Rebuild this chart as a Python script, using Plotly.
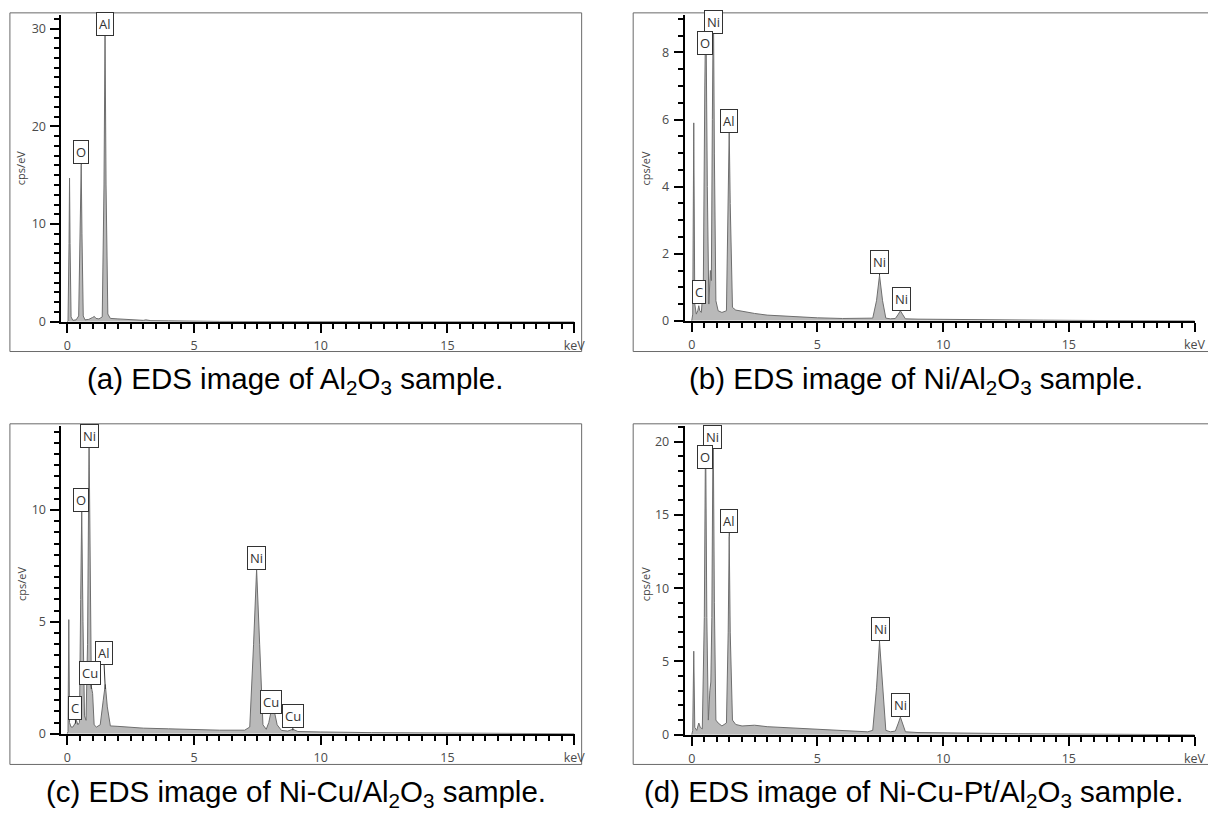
import plotly.graph_objects as go

# ---------------- data ----------------
energy_a = [0, 0.03, 0.07, 0.09, 0.11, 0.15, 0.22, 0.35, 0.45, 0.50, 0.55, 0.58, 0.63, 0.70, 0.85, 1.0, 1.07,
            1.13, 1.25, 1.38, 1.45, 1.49, 1.53, 1.60, 1.70, 2.0, 2.5, 3.0, 3.1, 3.3, 4, 5, 6, 8, 10, 12, 15, 20]
counts_a = [0, 0.1, 8.0, 14.7, 8.0, 0.5, 0.15, 0.2, 0.6, 9.0, 16.0, 9.0, 0.6, 0.2, 0.25, 0.45, 0.55,
            0.35, 0.3, 0.5, 14, 29.8, 14, 0.8, 0.35, 0.3, 0.2, 0.15, 0.2, 0.12, 0.1, 0.05, 0.04, 0.03, 0.02, 0.01, 0.01, 0]

energy_b = [0, 0.04, 0.08, 0.12, 0.18, 0.24, 0.28, 0.32, 0.38, 0.46, 0.52, 0.56, 0.62, 0.68, 0.74, 0.78, 0.82,
            0.86, 0.90, 0.96, 1.05, 1.2, 1.38, 1.45, 1.49, 1.53, 1.62, 1.75, 2.0, 2.5, 3, 4, 5, 6, 7, 7.2, 7.35,
            7.47, 7.59, 7.72, 7.9, 8.1, 8.22, 8.3, 8.38, 8.5, 9, 10, 12, 14, 16, 20]
counts_b = [0, 0.2, 5.9, 0.5, 0.2, 0.3, 0.45, 0.3, 0.25, 1.0, 7.0, 9.6, 4.0, 0.5, 1.5, 1.2, 6,
            9.8, 5, 0.6, 0.3, 0.25, 0.3, 3.5, 5.67, 3.5, 0.4, 0.32, 0.28, 0.22, 0.17, 0.12, 0.09, 0.07, 0.06, 0.08, 0.6,
            1.35, 0.6, 0.08, 0.06, 0.07, 0.2, 0.3, 0.2, 0.06, 0.05, 0.04, 0.03, 0.02, 0.01, 0]

energy_c = [0, 0.03, 0.06, 0.09, 0.15, 0.22, 0.3, 0.36, 0.42, 0.48, 0.53, 0.57, 0.62, 0.68, 0.74, 0.80, 0.86,
            0.90, 0.95, 1.0, 1.06, 1.15, 1.3, 1.42, 1.5, 1.58, 1.7, 2.0, 3, 4, 5, 6, 7, 7.2, 7.35, 7.47, 7.59,
            7.72, 7.85, 7.95, 8.05, 8.15, 8.28, 8.45, 8.7, 8.9, 9.1, 9.5, 10, 12, 15, 20]
counts_c = [0, 0.1, 5.1, 0.5, 0.3, 0.3, 0.45, 0.6, 0.4, 0.5, 6, 10.0, 5, 0.8, 0.6, 4, 13.2,
            6, 2.1, 1.8, 0.4, 0.3, 0.4, 1.5, 2.2, 1.2, 0.35, 0.33, 0.25, 0.22, 0.18, 0.16, 0.16, 0.3, 4, 7.35, 4,
            0.4, 0.2, 0.5, 1.05, 1.1, 0.4, 0.15, 0.12, 0.2, 0.1, 0.1, 0.08, 0.05, 0.03, 0]

energy_d = [0, 0.04, 0.08, 0.12, 0.2, 0.28, 0.34, 0.42, 0.5, 0.55, 0.6, 0.66, 0.72, 0.76, 0.80, 0.85, 0.9,
            0.96, 1.05, 1.2, 1.38, 1.45, 1.49, 1.53, 1.62, 1.75, 2, 2.5, 3, 4, 5, 6, 7, 7.2, 7.35, 7.47, 7.59,
            7.72, 7.9, 8.1, 8.22, 8.3, 8.38, 8.5, 9, 10, 11, 13, 15, 17, 20]
counts_d = [0, 0.3, 5.7, 0.5, 0.3, 0.8, 0.5, 0.4, 8, 21, 8, 1.0, 3.0, 3.6, 8, 22, 9,
            1.0, 0.8, 0.6, 0.8, 7, 13.5, 7, 1.0, 0.7, 0.6, 0.65, 0.55, 0.45, 0.35, 0.3, 0.2, 0.3, 3.2, 6.35, 3.2,
            0.3, 0.2, 0.25, 0.8, 1.2, 0.8, 0.2, 0.15, 0.12, 0.1, 0.07, 0.05, 0.03, 0]

# peak labels: (element, tip_x, tip_y, box_x, box_y)
labels_a = [("Al", 1.49, 30.5, 1.49, 30.5), ("O", 0.55, 16.0, 0.55, 17.4)]
labels_b = [("Ni", 0.87, 8.9, 0.87, 8.9), ("O", 0.53, 8.29, 0.53, 8.29), ("Al", 1.49, 5.67, 1.49, 5.96),
            ("C", 0.28, 0.5, 0.28, 0.86), ("Ni", 7.47, 1.35, 7.47, 1.74), ("Ni", 8.3, 0.3, 8.33, 0.66)]
labels_c = [("Ni", 0.86, 13.3, 0.86, 13.3), ("O", 0.55, 10.0, 0.55, 10.44), ("Ni", 7.47, 7.35, 7.48, 7.86),
            ("Al", 1.5, 2.0, 1.43, 3.63), ("Cu", 0.95, 2.0, 0.9, 2.7), ("C", 0.33, 0.45, 0.29, 1.15),
            ("Cu", 8.03, 0.95, 8.03, 1.44), ("Cu", 8.9, 0.15, 8.9, 0.8)]
labels_d = [("Ni", 0.84, 20.3, 0.84, 20.3), ("O", 0.51, 18.94, 0.51, 18.94), ("Al", 1.49, 13.5, 1.5, 14.55),
            ("Ni", 7.47, 6.35, 7.49, 7.23), ("Ni", 8.3, 1.2, 8.3, 2.05)]

x_tick_vals = [0, 5, 10, 15, 20]
x_tick_text = ["0", "5", "10", "15", "keV"]
y_ticks_a = [0, 10, 20, 30]
y_ticks_b = [0, 2, 4, 6, 8]
y_ticks_c = [0, 5, 10]
y_ticks_d = [0, 5, 10, 15, 20]

captions = ["(a) EDS image of Al<sub>2</sub>O<sub>3</sub> sample.",
            "(b) EDS image of Ni/Al<sub>2</sub>O<sub>3</sub> sample.",
            "(c) EDS image of Ni-Cu/Al<sub>2</sub>O<sub>3</sub> sample.",
            "(d) EDS image of Ni-Cu-Pt/Al<sub>2</sub>O<sub>3</sub> sample."]

# ---------------- layout helpers (pixel geometry) ----------------
W, H = 1208, 818
def fx(p):
    return p / W
def fy(p):
    return 1 - p / H

panels = [
    dict(s="", e=energy_a, c=counts_a, lab=labels_a, yt=y_ticks_a, ymin=1, xpx=(62, 580), ypx=(15, 325),
         xr=[-0.23, 20.02], yr=[0, 31.4], frame=(10, 13, 587, 355), cap=(298, 384), ttl=(21, 170)),
    dict(s="2", e=energy_b, c=counts_b, lab=labels_b, yt=y_ticks_b, ymin=0.5, xpx=(691, 1206), ypx=(15, 324),
         xr=[-0.28, 20.02], yr=[0, 9.12], frame=(639, 13, 1240, 355), cap=(924, 384), ttl=(651, 170)),
    dict(s="3", e=energy_c, c=counts_c, lab=labels_c, yt=y_ticks_c, ymin=0.5, xpx=(62, 580), ypx=(430, 741),
         xr=[-0.23, 20.02], yr=[0, 13.76], frame=(10, 428, 587, 772), cap=(299, 801), ttl=(21, 590)),
    dict(s="4", e=energy_d, c=counts_d, lab=labels_d, yt=y_ticks_d, ymin=1, xpx=(691, 1206), ypx=(430, 742),
         xr=[-0.28, 20.02], yr=[0, 21.08], frame=(639, 428, 1240, 772), cap=(922, 801), ttl=(651, 590)),
]

fig = go.Figure()
layout = dict(width=W, height=H, margin=dict(l=0, r=0, t=0, b=0), paper_bgcolor="white",
              plot_bgcolor="rgba(0,0,0,0)", showlegend=False)
shapes, annotations = [], []
tickfont = dict(family="Open Sans, DejaVu Sans, sans-serif", size=12.5, color="#4a4a4a")
labfont = dict(family="Open Sans, DejaVu Sans, sans-serif", size=13, color="#333333")

for i, p in enumerate(panels):
    s = p["s"]
    fig.add_trace(go.Scatter(x=p["e"], y=p["c"], mode="lines", fill="tozeroy",
                             line=dict(color="#6e6e6e", width=1), fillcolor="#b9b9b9",
                             xaxis="x" + s, yaxis="y" + s, hoverinfo="skip"))
    layout["xaxis" + s] = dict(domain=[fx(p["xpx"][0]), min(1.0, fx(p["xpx"][1]))], range=p["xr"], anchor="y" + s,
                               showline=True, linecolor="black", linewidth=2, ticks="outside", ticklen=9,
                               tickwidth=2, tickcolor="black", tickmode="array", tickvals=x_tick_vals,
                               ticktext=x_tick_text, ticklabelstandoff=2,
                               minor=dict(tickmode="linear", tick0=0, dtick=0.5, ticks="outside", ticklen=5,
                                          tickwidth=2, tickcolor="black"),
                               showgrid=False, zeroline=False, tickfont=tickfont, fixedrange=True)
    layout["yaxis" + s] = dict(domain=[fy(p["ypx"][1]), fy(p["ypx"][0])], range=p["yr"], anchor="x" + s,
                               showline=True, linecolor="black", linewidth=2, ticks="outside", ticklen=9,
                               tickwidth=2, tickcolor="black", tickmode="array", tickvals=p["yt"],
                               ticklabelstandoff=2,
                               minor=dict(tickmode="linear", tick0=0, dtick=p["ymin"], ticks="outside", ticklen=5,
                                          tickwidth=2, tickcolor="black"),
                               showgrid=False, zeroline=False, tickfont=tickfont, fixedrange=True)
    x0, y0, x1, y1 = p["frame"]
    shapes.append(dict(type="rect", xref="paper", yref="paper", x0=fx(x0), x1=fx(x1), y0=fy(y1), y1=fy(y0),
                       line=dict(color="#6a6a6a", width=1), fillcolor="rgba(0,0,0,0)", layer="below"))
    annotations.append(dict(xref="paper", yref="paper", x=fx(p["cap"][0]), y=fy(p["cap"][1]), text=captions[i],
                            showarrow=False, xanchor="center", yanchor="middle",
                            font=dict(family="Liberation Sans, Arial, sans-serif", size=29.5, color="black")))
    annotations.append(dict(xref="paper", yref="paper", x=fx(p["ttl"][0]), y=fy(p["ttl"][1]), text="cps/eV",
                            textangle=-90, showarrow=False, xanchor="center", yanchor="middle",
                            font=dict(family="Open Sans, DejaVu Sans, sans-serif", size=11, color="#444444")))
    for (t, tx, ty, bx, by) in p["lab"]:
        base = dict(xref="x" + s, yref="y" + s, text=t, font=labfont, bgcolor="white",
                    bordercolor="#333333", borderwidth=1, borderpad=2)
        if abs(ty - by) < 1e-9 and abs(tx - bx) < 1e-9:
            annotations.append(dict(base, x=bx, y=by, showarrow=False))
        else:
            annotations.append(dict(base, x=tx, y=ty, ax=bx, ay=by, axref="x" + s, ayref="y" + s,
                                    showarrow=True, arrowhead=0, arrowwidth=1, arrowcolor="#333333", standoff=0))

layout["shapes"] = shapes
layout["annotations"] = annotations
fig.update_layout(**layout)
fig.write_html("out.html", config={"displayModeBar": False, "staticPlot": True},
               post_script="document.body.style.margin='0';document.body.style.overflow='hidden';")
